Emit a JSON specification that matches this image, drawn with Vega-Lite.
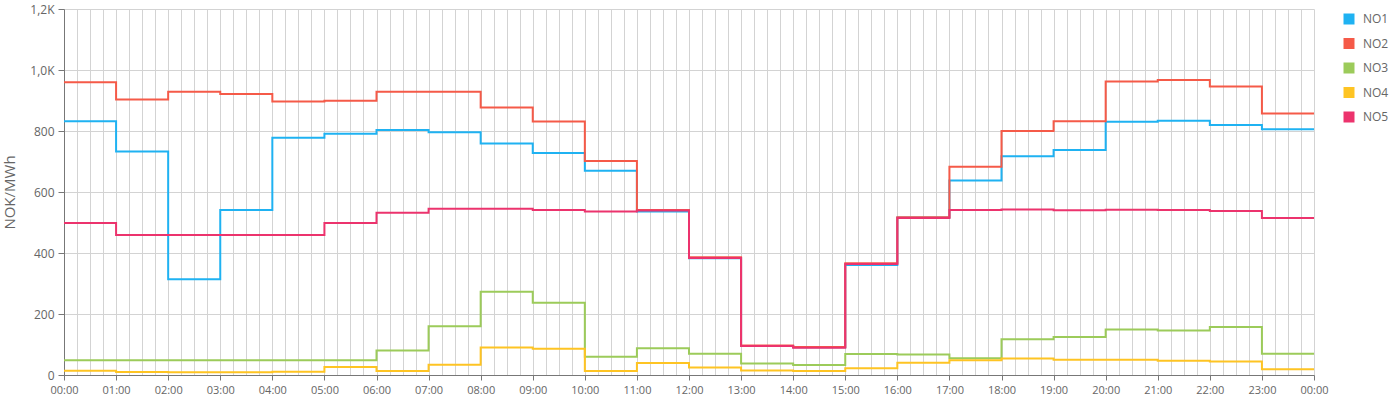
{
  "$schema": "https://vega.github.io/schema/vega-lite/v6.json",
  "width": 1250,
  "height": 366,
  "autosize": {"type": "none"},
  "padding": {"left": 64, "top": 9, "right": 86, "bottom": 25},
  "background": "white",
  "config": {
    "view": {"stroke": null},
    "font": "Open Sans"
  },
  "data": {
    "values": [
      {"t":0,"z":"NO1","v":832},{"t":1,"z":"NO1","v":733},{"t":2,"z":"NO1","v":314},{"t":3,"z":"NO1","v":541},{"t":4,"z":"NO1","v":778},{"t":5,"z":"NO1","v":791},{"t":6,"z":"NO1","v":803},{"t":7,"z":"NO1","v":796},{"t":8,"z":"NO1","v":759},{"t":9,"z":"NO1","v":728},{"t":10,"z":"NO1","v":670},{"t":11,"z":"NO1","v":536},{"t":12,"z":"NO1","v":383},{"t":13,"z":"NO1","v":95},{"t":14,"z":"NO1","v":91},{"t":15,"z":"NO1","v":361},{"t":16,"z":"NO1","v":516},{"t":17,"z":"NO1","v":638},{"t":18,"z":"NO1","v":717},{"t":19,"z":"NO1","v":738},{"t":20,"z":"NO1","v":830},{"t":21,"z":"NO1","v":834},{"t":22,"z":"NO1","v":820},{"t":23,"z":"NO1","v":806},{"t":24,"z":"NO1","v":806},
      {"t":0,"z":"NO2","v":960},{"t":1,"z":"NO2","v":903},{"t":2,"z":"NO2","v":929},{"t":3,"z":"NO2","v":921},{"t":4,"z":"NO2","v":897},{"t":5,"z":"NO2","v":899},{"t":6,"z":"NO2","v":929},{"t":7,"z":"NO2","v":929},{"t":8,"z":"NO2","v":877},{"t":9,"z":"NO2","v":831},{"t":10,"z":"NO2","v":702},{"t":11,"z":"NO2","v":541},{"t":12,"z":"NO2","v":386},{"t":13,"z":"NO2","v":97},{"t":14,"z":"NO2","v":92},{"t":15,"z":"NO2","v":366},{"t":16,"z":"NO2","v":517},{"t":17,"z":"NO2","v":683},{"t":18,"z":"NO2","v":800},{"t":19,"z":"NO2","v":832},{"t":20,"z":"NO2","v":962},{"t":21,"z":"NO2","v":967},{"t":22,"z":"NO2","v":946},{"t":23,"z":"NO2","v":857},{"t":24,"z":"NO2","v":857},
      {"t":0,"z":"NO3","v":48},{"t":1,"z":"NO3","v":48},{"t":2,"z":"NO3","v":48},{"t":3,"z":"NO3","v":48},{"t":4,"z":"NO3","v":48},{"t":5,"z":"NO3","v":48},{"t":6,"z":"NO3","v":80},{"t":7,"z":"NO3","v":160},{"t":8,"z":"NO3","v":273},{"t":9,"z":"NO3","v":237},{"t":10,"z":"NO3","v":60},{"t":11,"z":"NO3","v":88},{"t":12,"z":"NO3","v":70},{"t":13,"z":"NO3","v":38},{"t":14,"z":"NO3","v":33},{"t":15,"z":"NO3","v":69},{"t":16,"z":"NO3","v":67},{"t":17,"z":"NO3","v":55},{"t":18,"z":"NO3","v":117},{"t":19,"z":"NO3","v":125},{"t":20,"z":"NO3","v":149},{"t":21,"z":"NO3","v":146},{"t":22,"z":"NO3","v":157},{"t":23,"z":"NO3","v":70},{"t":24,"z":"NO3","v":70},
      {"t":0,"z":"NO4","v":14},{"t":1,"z":"NO4","v":10},{"t":2,"z":"NO4","v":9},{"t":3,"z":"NO4","v":9},{"t":4,"z":"NO4","v":11},{"t":5,"z":"NO4","v":26},{"t":6,"z":"NO4","v":13},{"t":7,"z":"NO4","v":34},{"t":8,"z":"NO4","v":90},{"t":9,"z":"NO4","v":86},{"t":10,"z":"NO4","v":13},{"t":11,"z":"NO4","v":39},{"t":12,"z":"NO4","v":25},{"t":13,"z":"NO4","v":15},{"t":14,"z":"NO4","v":13},{"t":15,"z":"NO4","v":22},{"t":16,"z":"NO4","v":40},{"t":17,"z":"NO4","v":48},{"t":18,"z":"NO4","v":54},{"t":19,"z":"NO4","v":50},{"t":20,"z":"NO4","v":50},{"t":21,"z":"NO4","v":47},{"t":22,"z":"NO4","v":44},{"t":23,"z":"NO4","v":19},{"t":24,"z":"NO4","v":19},
      {"t":0,"z":"NO5","v":498},{"t":1,"z":"NO5","v":459},{"t":2,"z":"NO5","v":459},{"t":3,"z":"NO5","v":459},{"t":4,"z":"NO5","v":459},{"t":5,"z":"NO5","v":498},{"t":6,"z":"NO5","v":532},{"t":7,"z":"NO5","v":545},{"t":8,"z":"NO5","v":545},{"t":9,"z":"NO5","v":541},{"t":10,"z":"NO5","v":536},{"t":11,"z":"NO5","v":539},{"t":12,"z":"NO5","v":384},{"t":13,"z":"NO5","v":95},{"t":14,"z":"NO5","v":89},{"t":15,"z":"NO5","v":364},{"t":16,"z":"NO5","v":515},{"t":17,"z":"NO5","v":541},{"t":18,"z":"NO5","v":543},{"t":19,"z":"NO5","v":540},{"t":20,"z":"NO5","v":542},{"t":21,"z":"NO5","v":541},{"t":22,"z":"NO5","v":538},{"t":23,"z":"NO5","v":515},{"t":24,"z":"NO5","v":515}
    ]
  },
  "mark": {"type": "line", "interpolate": "step-after", "strokeWidth": 2, "clip": true},
  "encoding": {
    "x": {
      "field": "t",
      "type": "quantitative",
      "scale": {"domain": [0, 24], "nice": false, "zero": false},
      "axis": {
        "title": null,
        "values": [0,0.25,0.5,0.75,1,1.25,1.5,1.75,2,2.25,2.5,2.75,3,3.25,3.5,3.75,4,4.25,4.5,4.75,5,5.25,5.5,5.75,6,6.25,6.5,6.75,7,7.25,7.5,7.75,8,8.25,8.5,8.75,9,9.25,9.5,9.75,10,10.25,10.5,10.75,11,11.25,11.5,11.75,12,12.25,12.5,12.75,13,13.25,13.5,13.75,14,14.25,14.5,14.75,15,15.25,15.5,15.75,16,16.25,16.5,16.75,17,17.25,17.5,17.75,18,18.25,18.5,18.75,19,19.25,19.5,19.75,20,20.25,20.5,20.75,21,21.25,21.5,21.75,22,22.25,22.5,22.75,23,23.25,23.5,23.75,24],
        "grid": true,
        "gridColor": "#d3d3d3",
        "gridWidth": 1,
        "domainColor": "#777777",
        "domainWidth": 1,
        "tickColor": "#777777",
        "tickOpacity": {"condition": {"test": "datum.value % 1 === 0", "value": 1}, "value": 0},
        "tickSize": 5,
        "labelExpr": "datum.value % 1 === 0 ? ((datum.value % 24) < 10 ? '0' : '') + (datum.value % 24) + ':00' : ''",
        "labelOverlap": false,
        "labelFont": "Open Sans",
        "labelFontSize": 11,
        "labelColor": "#666666",
        "labelPadding": 4,
        "labelFlush": false
      }
    },
    "y": {
      "field": "v",
      "type": "quantitative",
      "scale": {"domain": [0, 1200], "nice": false},
      "axis": {
        "title": "NOK/MWh",
        "titleFont": "Open Sans",
        "titleFontSize": 15,
        "titleFontWeight": "normal",
        "titleColor": "#666666",
        "titlePadding": 12,
        "values": [0, 200, 400, 600, 800, 1000, 1200],
        "grid": true,
        "gridColor": "#d3d3d3",
        "domainColor": "#777777",
        "tickColor": "#777777",
        "tickSize": 6,
        "labelExpr": "datum.value >= 1000 ? replace(format(datum.value / 1000, '.1f'), '.', ',') + 'K' : format(datum.value, 'd')",
        "labelFont": "Open Sans",
        "labelFontSize": 12,
        "labelColor": "#666666",
        "labelPadding": 4
      }
    },
    "color": {
      "field": "z",
      "type": "nominal",
      "scale": {
        "domain": ["NO1", "NO2", "NO3", "NO4", "NO5"],
        "range": ["#1fb2f2", "#f55a48", "#9ccb5a", "#fec423", "#ec336d"]
      },
      "legend": {
        "title": null,
        "orient": "none",
        "legendX": 1279,
        "legendY": 4,
        "symbolType": "square",
        "symbolSize": 121,
        "symbolStrokeWidth": 0,
        "symbolOpacity": 1,
        "labelFont": "Open Sans",
        "labelFontSize": 12,
        "labelColor": "#666666",
        "labelOffset": 8,
        "rowPadding": 12.5,
        "encode": {
          "symbols": {
            "update": {
              "fill": {"scale": "color", "field": "value"},
              "fillOpacity": {"value": 1},
              "strokeWidth": {"value": 0}
            }
          }
        }
      }
    }
  }
}
